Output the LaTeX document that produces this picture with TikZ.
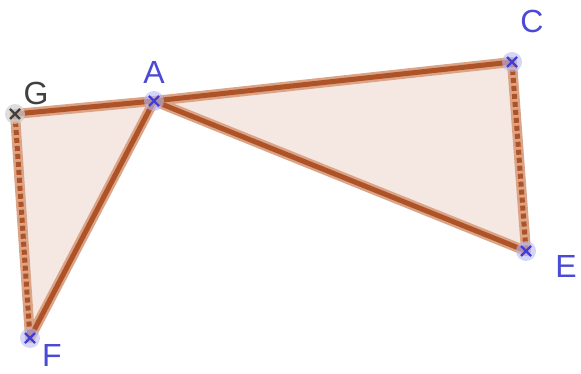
\documentclass[tikz,border=0pt]{standalone}
\usepackage{fontspec}
\setmainfont{Liberation Sans}
\usetikzlibrary{calc}
\begin{document}
\begin{tikzpicture}[x=1pt,y=-1pt,
  halo/.style={draw=haloc,line width=10pt,line cap=round},
  core/.style={draw=corec,line width=5pt,line cap=round},
  dotcore/.style={draw=corec,line width=5pt,dash pattern=on 5pt off 3pt},
  ptdot/.style={circle,fill=ptfill,fill opacity=0.6,minimum size=20pt,inner sep=0pt},
  gdot/.style={circle,fill=gfill,fill opacity=0.7,minimum size=20pt,inner sep=0pt},
  lbl/.style={text=lblc,font=\fontsize{32}{32}\selectfont,inner sep=0pt}]
\definecolor{haloc}{HTML}{DBA486}
\definecolor{corec}{HTML}{AE5228}
\definecolor{fillc}{HTML}{F5E7E1}
\definecolor{ptfill}{HTML}{B9B9F2}
\definecolor{gfill}{HTML}{CFCFCF}
\definecolor{lblc}{HTML}{4A4AD6}
\definecolor{crossc}{HTML}{3F3FD8}
\useasboundingbox (0,0) rectangle (581,374);
\coordinate (G) at (15,114);
\coordinate (A) at (154,101);
\coordinate (C) at (512,62);
\coordinate (E) at (526,251);
\coordinate (F) at (30,338);
\fill[fillc] (G) -- (A) -- (F) -- cycle;
\fill[fillc] (A) -- (C) -- (E) -- cycle;
\draw[halo] (G) -- (A);
\draw[halo] (A) -- (F);
\draw[halo] (G) -- (F);
\draw[halo] (A) -- (C);
\draw[halo] (A) -- (E);
\draw[halo] (C) -- (E);
\draw[core] (G) -- (A);
\draw[core] (A) -- (F);
\draw[core] (A) -- (C);
\draw[core] (A) -- (E);
\draw[dotcore] (G) -- (F);
\draw[dotcore] (C) -- (E);
\node[gdot] (pG) at (G) {};
\node[ptdot] (pA) at (A) {};
\node[ptdot] (pC) at (C) {};
\node[ptdot] (pE) at (E) {};
\node[ptdot] (pF) at (F) {};
\foreach \p/\c in {G/black!75,A/crossc,C/crossc,E/crossc,F/crossc}{
  \draw[\c,line width=2.2pt] ($(\p)+(-5,-5)$) -- ($(\p)+(5,5)$) ($(\p)+(-5,5)$) -- ($(\p)+(5,-5)$);
}
\node[lbl,text=black!75] (lG) at (36,93) {G};
\node[lbl] (lA) at (154,72) {A};
\node[lbl] (lC) at (532,21) {C};
\node[lbl] (lE) at (566,266) {E};
\node[lbl] (lF) at (52,355) {F};
\end{tikzpicture}
\end{document}
